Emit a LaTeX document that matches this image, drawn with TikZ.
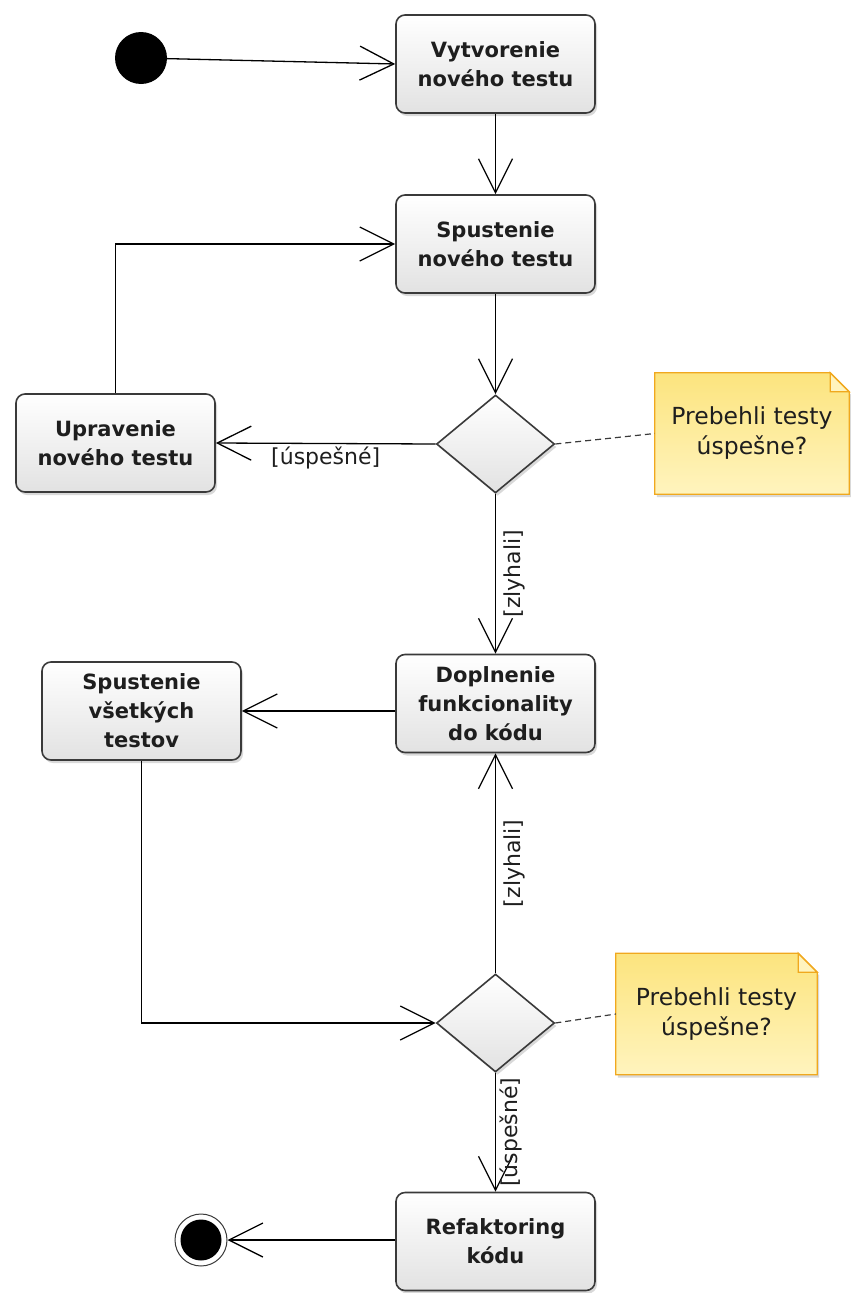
\documentclass[tikz,border=0pt]{standalone}
\usepackage{fontspec}
\setmainfont{DejaVu Sans}
\usetikzlibrary{arrows.meta,shapes.geometric,shadows,backgrounds}

\definecolor{boxline}{HTML}{3A3A3A}
\definecolor{boxfill}{HTML}{E2E2E2}
\definecolor{notetop}{HTML}{FCE47E}
\definecolor{notebottom}{HTML}{FFF4BE}
\definecolor{noteline}{HTML}{F0A81E}
\definecolor{textgray}{HTML}{1E1E1E}

\tikzset{
    activity/.style={draw=boxline, line width=1.6pt, rounded corners=9pt,
        top color=white, bottom color=boxfill, text=textgray,
        minimum width=199pt, minimum height=98pt, align=center,
        font=\fontsize{21}{29}\selectfont\bfseries,
        drop shadow={shadow xshift=2pt, shadow yshift=-3pt, opacity=0.3}},
    decision/.style={diamond, draw=boxline, line width=1.6pt,
        top color=white, bottom color=boxfill, inner sep=0pt,
        minimum width=118pt, minimum height=98pt,
        drop shadow={shadow xshift=2pt, shadow yshift=-3pt, opacity=0.3}},
    initial/.style={circle, fill=black, minimum size=52pt, inner sep=0pt},
    final/.style={circle, draw=boxline, line width=1pt, fill=white, minimum size=52pt, inner sep=0pt},
    notebox/.style={minimum height=121pt, align=center, text=textgray,
        font=\fontsize{23.5}{30}\selectfont},
    notebg/.style={draw=noteline, line width=1.3pt, top color=notetop, bottom color=notebottom,
        drop shadow={shadow xshift=2pt, shadow yshift=-3pt, opacity=0.3}},
    flow/.style={black, line width=1.3pt, -{Straight Barb[length=34pt,width=34pt]}},
    guard/.style={font=\fontsize{22}{26}\selectfont, text=textgray, inner sep=3pt},
    sideguard/.style={guard, rotate=90, anchor=north, inner ysep=8pt},
    notelink/.style={boxline, line width=1.2pt, dash pattern=on 6pt off 4pt},
}

\begin{document}
\begin{tikzpicture}[x=1pt, y=-1pt]
    \useasboundingbox (0,0) rectangle (851,1293);

    % Upper loop: write and run the new test
    \node[initial] (start) at (141,58) {};
    \node[activity] (create) at (495.5,64) {Vytvorenie\\nového testu};
    \node[activity] (run) at (495.5,244) {Spustenie\\nového testu};
    \node[decision] (check1) at (495.5,444) {};
    \node[activity] (edit) at (115.5,443) {Upravenie\\nového testu};
    \node[notebox, minimum width=194pt] (note1) at (752,433.5) {Prebehli testy\\úspešne?};

    % Lower loop: implement and run all tests
    \node[activity] (impl) at (495.5,703.5) {Doplnenie\\funkcionality\\do kódu};
    \node[activity] (runall) at (141.5,711) {Spustenie\\všetkých\\testov};
    \node[decision] (check2) at (495.5,1023) {};
    \node[notebox, minimum width=201pt] (note2) at (716.5,1014) {Prebehli testy\\úspešne?};
    \node[activity] (refactor) at (495.5,1241.5) {Refaktoring\\kódu};
    \node[final] (stop) at (201,1240) {};
    \node[circle, fill=black, minimum size=41pt, inner sep=0pt] (stopdot) at (stop) {};

    % Notes with folded corner
    \begin{scope}[on background layer]
        \foreach \n in {note1,note2} {
            \path[notebg] (\n.north west) -- ([xshift=-19pt]\n.north east)
                -- ([yshift=-19pt]\n.north east) -- (\n.south east) -- (\n.south west) -- cycle;
            \filldraw[fill=notebottom, draw=noteline, line width=1.3pt]
                ([xshift=-19pt]\n.north east) |- ([yshift=-19pt]\n.north east) -- cycle;
        }
    \end{scope}

    % Transitions
    \draw[flow] (start) -- (create.west);
    \draw[flow] (create) -- (run);
    \draw[flow] (run) -- (check1.north);
    \draw[flow] (check1.west) -- node[guard, below] {[úspešné]} (edit.east);
    \draw[flow] (edit.north) |- (run.west);
    \draw[flow] (check1.south) -- node[sideguard] {[zlyhali]} (impl.north);
    \draw[flow] (runall.east -| impl.west) -- (runall.east);
    \draw[flow] (runall.south) |- (check2.west);
    \draw[flow] (check2.north) -- node[sideguard] {[zlyhali]} (impl.south);
    \draw[flow] (check2.south) -- node[sideguard, inner ysep=4pt] {[úspešné]} (refactor.north);
    \draw[flow] (refactor.west |- stop) -- (stop);

    % Note links
    \draw[notelink] (check1.east) -- (note1.west);
    \draw[notelink] (check2.east) -- (note2.west);
\end{tikzpicture}
\end{document}
